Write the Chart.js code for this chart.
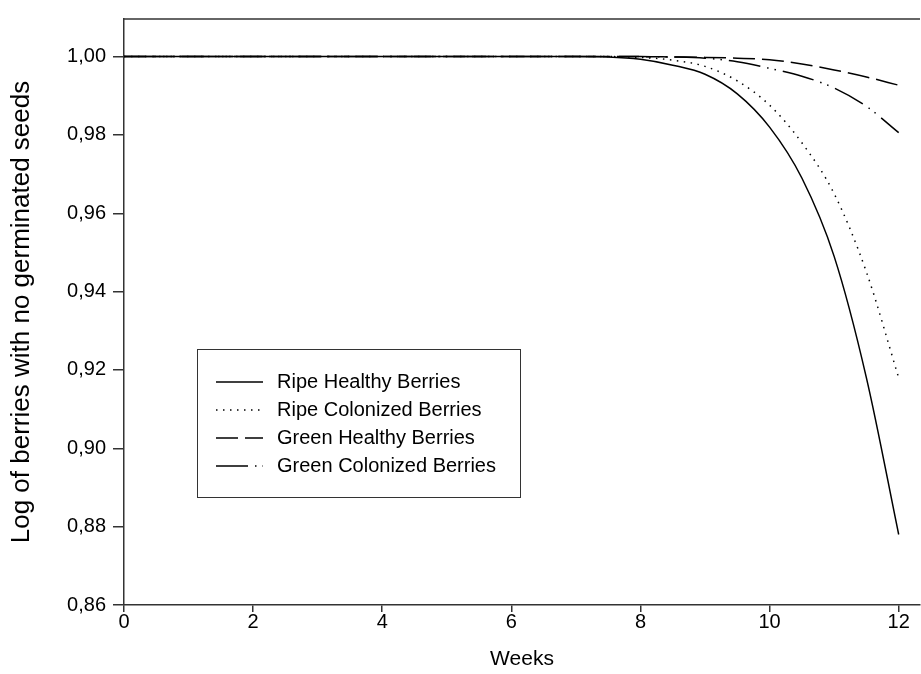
<!DOCTYPE html>
<html>
<head>
<meta charset="utf-8">
<script src="https://cdn.jsdelivr.net/npm/chart.js@4.4.1/dist/chart.umd.min.js"></script>
<style>
  html, body { margin: 0; padding: 0; background: #fff; }
</style>
</head>
<body>
<canvas id="berryChart" width="921" height="674"></canvas>
<script>
// weeks sampled along the fitted curves
const weeks = [0, 2, 4, 6, 7, 7.5, 8, 8.5, 9, 9.5, 10, 10.5, 11, 11.5, 12];

const ripeHealthy    = [1, 1, 1, 1, 1, 0.9999, 0.9993, 0.9978, 0.9955, 0.9905, 0.982, 0.969, 0.949, 0.918, 0.878];
const ripeColonized  = [1, 1, 1, 1, 1, 1, 0.9998, 0.9991, 0.9975, 0.9938, 0.9876, 0.978, 0.965, 0.945, 0.918];
const greenHealthy   = [1, 1, 1, 1, 1, 1, 1, 0.9999, 0.9998, 0.9996, 0.9992, 0.9981, 0.9966, 0.9948, 0.9927];
const greenColonized = [1, 1, 1, 1, 1, 1, 1, 0.9999, 0.9996, 0.9987, 0.997, 0.995, 0.992, 0.9873, 0.9806];

const xTicks = [0, 2, 4, 6, 8, 10, 12];
const yTicks = [0.86, 0.88, 0.90, 0.92, 0.94, 0.96, 0.98, 1.00];

const axisColor = "#333";
const fontFamily = "'Liberation Sans', Arial, sans-serif";

function pts(values) {
  return weeks.map((w, i) => ({ x: w, y: values[i] }));
}

function line(label, values, dash) {
  return {
    label: label,
    data: pts(values),
    borderColor: "#000",
    borderWidth: 1.5,
    borderDash: dash,
    pointRadius: 0,
    fill: false,
    cubicInterpolationMode: "monotone"
  };
}

// top frame line + boxed legend inside the plot
const framePlugin = {
  id: "frame",
  afterDraw(chart) {
    const c = chart.ctx;
    const a = chart.chartArea;
    c.save();
    c.strokeStyle = axisColor;
    c.lineWidth = 1.5;
    c.beginPath();
    c.moveTo(a.left, a.top);
    c.lineTo(a.right, a.top);
    c.stroke();

    // legend box
    c.fillStyle = "#fff";
    c.fillRect(197.5, 349.5, 323, 148);
    c.strokeStyle = "#333";
    c.lineWidth = 1;
    c.strokeRect(197.5, 349.5, 323, 148);

    const rows = [382, 410, 438, 466];
    c.font = "20px " + fontFamily;
    c.textBaseline = "middle";
    chart.data.datasets.forEach((ds, i) => {
      const y = rows[i];
      c.strokeStyle = "#000";
      c.lineWidth = 1.5;
      c.setLineDash(ds.borderDash || []);
      c.beginPath();
      c.moveTo(216, y);
      c.lineTo(263, y);
      c.stroke();
      c.setLineDash([]);
      c.fillStyle = "#000";
      c.fillText(ds.label, 277, y);
    });
    c.restore();
  }
};

new Chart(document.getElementById("berryChart"), {
  type: "line",
  data: {
    datasets: [
      line("Ripe Healthy Berries", ripeHealthy, []),
      line("Ripe Colonized Berries", ripeColonized, [1.5, 5.5]),
      line("Green Healthy Berries", greenHealthy, [22, 7]),
      line("Green Colonized Berries", greenColonized, [32, 7, 1.5, 6, 1.5, 7])
    ]
  },
  options: {
    responsive: false,
    animation: false,
    layout: { padding: { top: 14, right: 1, left: 0, bottom: 0 } },
    plugins: {
      legend: { display: false },
      tooltip: { enabled: false }
    },
    scales: {
      x: {
        type: "linear",
        min: 0,
        max: 12.33,
        afterBuildTicks: s => { s.ticks = xTicks.map(v => ({ value: v })); },
        afterFit: s => { s.height = 69; },
        grid: { drawOnChartArea: false, drawTicks: true, tickLength: 7, color: axisColor, lineWidth: 1.5 },
        border: { display: true, color: axisColor, width: 1.5 },
        ticks: {
          color: "#000",
          padding: -2,
          maxRotation: 0,
          font: { family: fontFamily, size: 20 }
        },
        title: {
          display: true,
          text: "Weeks",
          color: "#000",
          font: { family: fontFamily, size: 21 },
          padding: { top: 0, bottom: 2 }
        }
      },
      y: {
        min: 0.86,
        max: 1.0096,
        afterBuildTicks: s => { s.ticks = yTicks.map(v => ({ value: v })); },
        afterFit: s => { s.width = 124; },
        grid: { drawOnChartArea: false, drawTicks: true, tickLength: 11, color: axisColor, lineWidth: 1.5 },
        border: { display: true, color: axisColor, width: 1.5 },
        ticks: {
          color: "#000",
          padding: 7,
          font: { family: fontFamily, size: 20 },
          callback: v => v.toFixed(2).replace(".", ",")
        },
        title: {
          display: true,
          text: "Log of berries with no germinated seeds",
          color: "#000",
          font: { family: fontFamily, size: 26 },
          padding: { top: 6, bottom: 0 }
        }
      }
    }
  },
  plugins: [framePlugin]
});
</script>
</body>
</html>
